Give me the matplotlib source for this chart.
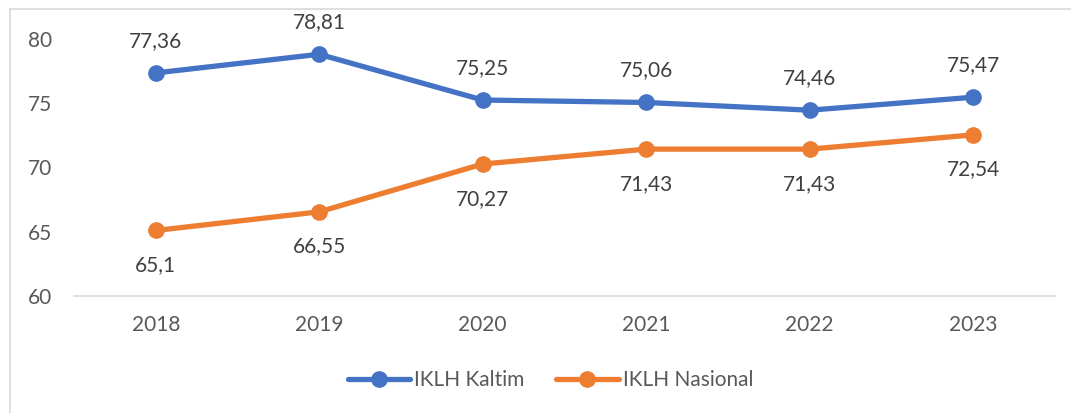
import matplotlib.pyplot as plt
import matplotlib.patches as patches

years = ['2018', '2019', '2020', '2021', '2022', '2023']
kaltim = [77.36, 78.81, 75.25, 75.06, 74.46, 75.47]
nasional = [65.1, 66.55, 70.27, 71.43, 71.43, 72.54]

blue = '#4472C4'
orange = '#ED7D31'
plt.rcParams['font.family'] = ['Lato', 'DejaVu Sans']
fs = 15

fig = plt.figure(figsize=(10.71, 4.13), dpi=100)
ax = fig.add_axes([0.0691, 0.2833, 0.9159, 0.6223])

# light outer frame of the chart area
fig.patches.append(patches.Rectangle((10 / 1071, -0.05), 1.05, 1 - 9 / 413 + 0.05,
                                     transform=fig.transFigure, fill=False,
                                     edgecolor='#D9D9D9', linewidth=1.2))

x = range(len(years))
ax.plot(x, kaltim, color=blue, linewidth=3.8, marker='o', markersize=11,
        label='IKLH Kaltim', solid_capstyle='round')
ax.plot(x, nasional, color=orange, linewidth=3.8, marker='o', markersize=11,
        label='IKLH Nasional', solid_capstyle='round')

def fmt(v):
    return f'{v:g}'.replace('.', ',')

for i, v in enumerate(kaltim):
    ax.annotate(fmt(v), (i, v), xytext=(0, 23), textcoords='offset points',
                ha='center', va='center', fontsize=fs, color='#404040')
for i, v in enumerate(nasional):
    ax.annotate(fmt(v), (i, v), xytext=(0, -25), textcoords='offset points',
                ha='center', va='center', fontsize=fs, color='#404040')

ax.set_xlim(-0.5, 5.5)
ax.set_ylim(60, 80)
ax.set_yticks([60, 65, 70, 75, 80])
ax.set_xticks(list(x))
ax.set_xticklabels(years)
ax.tick_params(axis='both', length=0, labelsize=fs, labelcolor='#595959')
ax.tick_params(axis='x', pad=14)
ax.tick_params(axis='y', pad=16)
for s in ['top', 'right', 'left']:
    ax.spines[s].set_visible(False)
ax.spines['bottom'].set_color('#D9D9D9')
ax.spines['bottom'].set_linewidth(1.2)
ax.set_facecolor('none')

fig.legend(loc='center', bbox_to_anchor=(0.514, 0.08), ncol=2, frameon=False,
           fontsize=fs, handlelength=3, handletextpad=0.2, columnspacing=1.5,
           labelcolor='#595959')

fig.savefig('out.png', dpi=100)
